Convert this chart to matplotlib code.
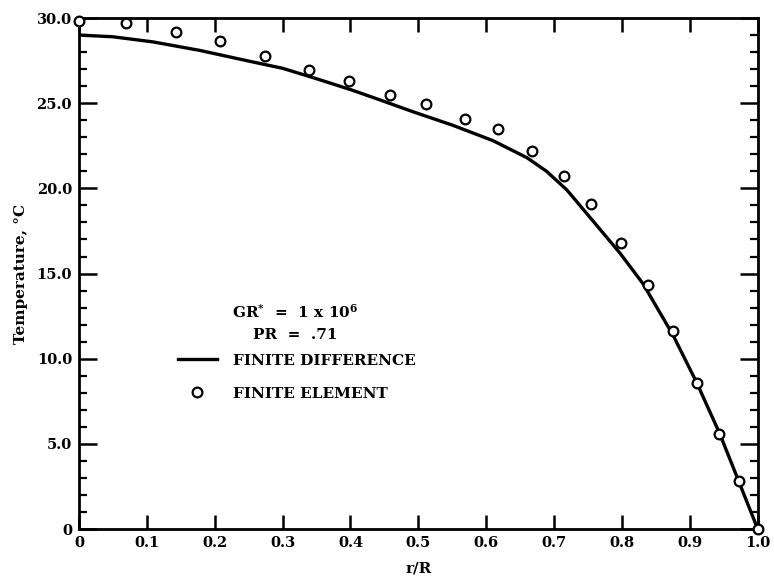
import matplotlib.pyplot as plt
from matplotlib.ticker import MultipleLocator

# finite difference curve
fd_r = [0.0, 0.05, 0.109, 0.178, 0.247, 0.30, 0.345, 0.40, 0.443, 0.492, 0.551,
        0.61, 0.66, 0.689, 0.719, 0.757, 0.797, 0.831, 0.875, 0.910, 0.944, 0.973, 1.0]
fd_t = [29.0, 28.9, 28.6, 28.1, 27.5, 27.05, 26.5, 25.8, 25.2, 24.5, 23.7,
        22.8, 21.8, 21.0, 19.9, 18.1, 16.2, 14.4, 11.4, 8.6, 5.6, 2.7, 0.0]

# finite element points
fe_r = [0.0, 0.07, 0.143, 0.208, 0.274, 0.339, 0.398, 0.458, 0.511, 0.568, 0.617,
        0.667, 0.714, 0.754, 0.798, 0.838, 0.875, 0.910, 0.943, 0.972, 1.0]
fe_t = [29.8, 29.7, 29.2, 28.65, 27.8, 26.95, 26.3, 25.5, 24.95, 24.1, 23.5,
        22.2, 20.7, 19.1, 16.8, 14.3, 11.6, 8.6, 5.6, 2.8, 0.0]

x_ticks = [0, 0.1, 0.2, 0.3, 0.4, 0.5, 0.6, 0.7, 0.8, 0.9, 1.0]
x_labels = ["0", "0.1", "0.2", "0.3", "0.4", "0.5", "0.6", "0.7", "0.8", "0.9", "1.0"]
y_ticks = [0, 5, 10, 15, 20, 25, 30]
y_labels = ["0", "5.0", "10.0", "15.0", "20.0", "25.0", "30.0"]

plt.rcParams['font.family'] = ['DejaVu Serif']
plt.rcParams['font.weight'] = 'bold'
plt.rcParams['mathtext.fontset'] = 'dejavuserif'

fig = plt.figure(figsize=(7.74, 5.82), dpi=100)
ax = fig.add_axes([0.102, 0.091, 0.877, 0.878])

ax.plot(fd_r, fd_t, color='black', lw=2.4, label='FINITE DIFFERENCE', zorder=2)
ax.plot(fe_r, fe_t, 'o', mfc='white', mec='black', mew=1.6, ms=7,
        label='FINITE ELEMENT', zorder=3, clip_on=False)

ax.set_xlim(0, 1.0)
ax.set_ylim(0, 30)
ax.set_xticks(x_ticks)
ax.set_xticklabels(x_labels)
ax.set_yticks(y_ticks)
ax.set_yticklabels(y_labels)
ax.yaxis.set_minor_locator(MultipleLocator(1))

ax.tick_params(which='major', direction='in', top=True, right=True,
               length=10, width=1.8, labelsize=10.5, pad=5)
ax.tick_params(axis='y', which='major', left=True, length=13)
ax.tick_params(which='minor', direction='in', right=True, left=True,
               length=6, width=1.6)
for s in ax.spines.values():
    s.set_linewidth(2)

ax.set_xlabel('r/R', fontsize=11, fontweight='bold', labelpad=8)
ax.set_ylabel('Temperature, °C', fontsize=11, fontweight='bold', labelpad=6)

ax.text(0.318, 0.425, r'GR$^{\mathbf{*}}$  =  1 x 10$^{\mathbf{6}}$', transform=ax.transAxes,
        ha='center', va='center', fontsize=11, fontweight='bold')
ax.text(0.318, 0.38, 'PR  =  .71', transform=ax.transAxes,
        ha='center', va='center', fontsize=11, fontweight='bold')

ax.legend(loc='upper left', bbox_to_anchor=(0.125, 0.37), frameon=False,
          handlelength=2.6, handletextpad=1.0, labelspacing=1.25,
          prop={'size': 11, 'weight': 'bold'})

fig.savefig('out.png', dpi=100)
